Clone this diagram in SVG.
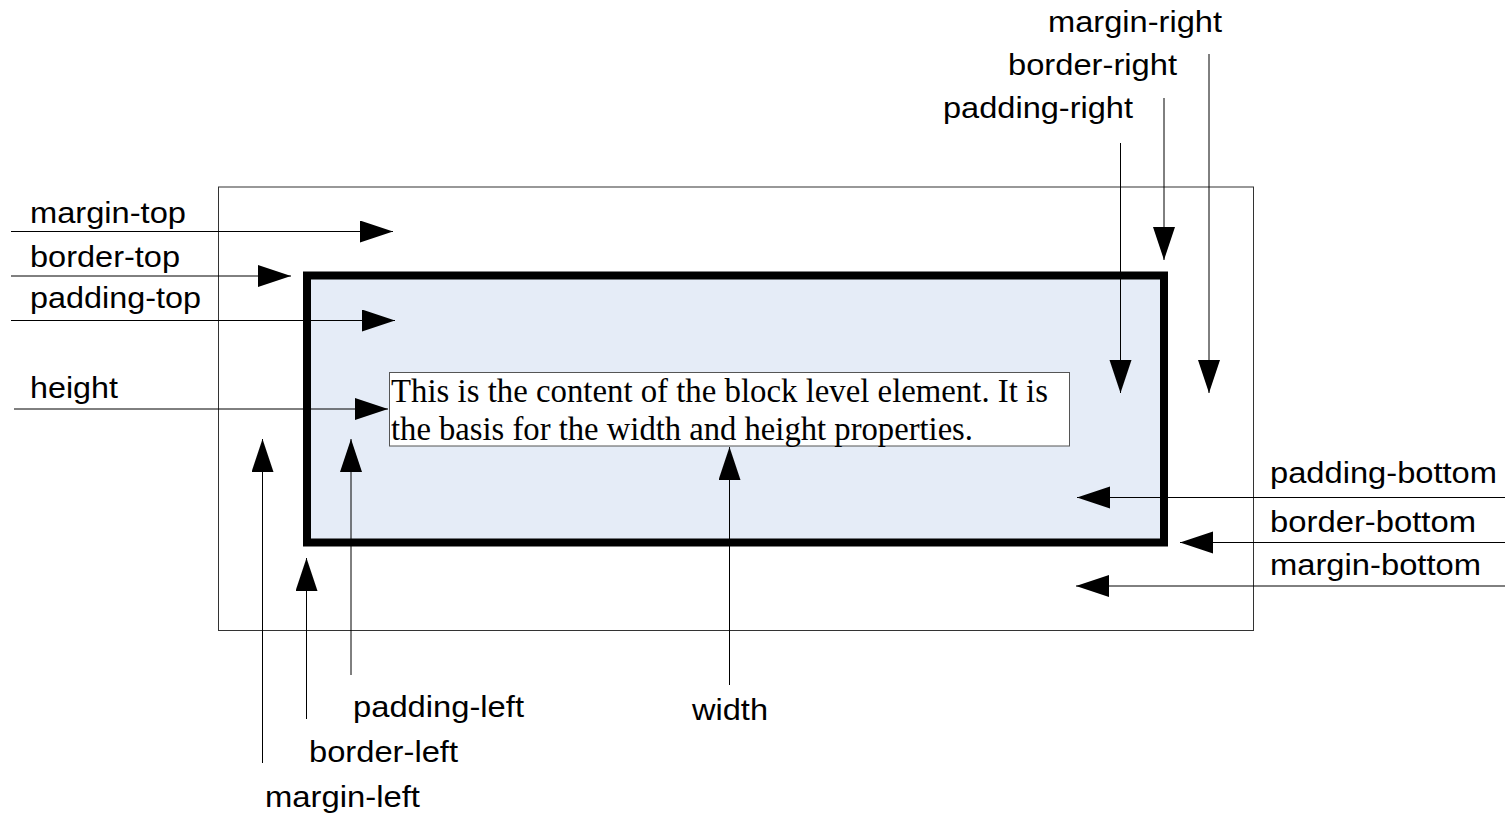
<svg xmlns="http://www.w3.org/2000/svg" width="1505" height="816" viewBox="0 0 1505 816">
  <style>
    .lbl { font-family: "Liberation Sans", Arial, sans-serif; font-size: 30px; fill: #000; }
    .body { font-family: "Liberation Serif", "Times New Roman", serif; font-size: 34px; fill: #000; }
    .conn { fill: none; stroke: #000; stroke-width: 1; marker-end: url(#head); }
  </style>
  <defs>
    <marker id="head" markerUnits="userSpaceOnUse" markerWidth="34" markerHeight="24" refX="33" refY="11" orient="auto">
      <path d="M0,0 L33,11 L0,22 Z" fill="#000"/>
    </marker>
  </defs>

  <!-- margin edge -->
  <g id="margin-box">
    <rect x="218.5" y="187" width="1035" height="443.5" fill="none" stroke="#333" stroke-width="1"/>
  </g>

  <!-- border edge with padding area -->
  <g id="border-box">
    <rect x="307" y="275.5" width="857" height="267" fill="#e5ecf7" stroke="#000" stroke-width="8"/>
  </g>

  <!-- content area -->
  <g id="content-box">
    <rect x="389.5" y="372.5" width="680" height="73.5" fill="#fff" stroke="#555" stroke-width="1"/>
    <text class="body" x="391" y="401.5" textLength="657" lengthAdjust="spacingAndGlyphs">This is the content of the block level element. It is</text>
    <text class="body" x="391" y="440" textLength="582" lengthAdjust="spacingAndGlyphs">the basis for the width and height properties.</text>
  </g>

  <!-- labels -->
  <g id="label-margin-top"><text class="lbl" x="30" y="223" textLength="156" lengthAdjust="spacingAndGlyphs">margin-top</text></g>
  <g id="label-border-top"><text class="lbl" x="30" y="267" textLength="150" lengthAdjust="spacingAndGlyphs">border-top</text></g>
  <g id="label-padding-top"><text class="lbl" x="30" y="308" textLength="171" lengthAdjust="spacingAndGlyphs">padding-top</text></g>
  <g id="label-height"><text class="lbl" x="30" y="398" textLength="88" lengthAdjust="spacingAndGlyphs">height</text></g>
  <g id="label-margin-right"><text class="lbl" x="1048" y="32" textLength="174" lengthAdjust="spacingAndGlyphs">margin-right</text></g>
  <g id="label-border-right"><text class="lbl" x="1008" y="75" textLength="169" lengthAdjust="spacingAndGlyphs">border-right</text></g>
  <g id="label-padding-right"><text class="lbl" x="943" y="118" textLength="190" lengthAdjust="spacingAndGlyphs">padding-right</text></g>
  <g id="label-padding-bottom"><text class="lbl" x="1270" y="483" textLength="227" lengthAdjust="spacingAndGlyphs">padding-bottom</text></g>
  <g id="label-border-bottom"><text class="lbl" x="1270" y="532" textLength="206" lengthAdjust="spacingAndGlyphs">border-bottom</text></g>
  <g id="label-margin-bottom"><text class="lbl" x="1270" y="575" textLength="211" lengthAdjust="spacingAndGlyphs">margin-bottom</text></g>
  <g id="label-padding-left"><text class="lbl" x="353" y="717" textLength="171" lengthAdjust="spacingAndGlyphs">padding-left</text></g>
  <g id="label-border-left"><text class="lbl" x="309" y="762" textLength="149" lengthAdjust="spacingAndGlyphs">border-left</text></g>
  <g id="label-margin-left"><text class="lbl" x="265" y="807" textLength="155" lengthAdjust="spacingAndGlyphs">margin-left</text></g>
  <g id="label-width"><text class="lbl" x="692" y="720" textLength="76" lengthAdjust="spacingAndGlyphs">width</text></g>

  <!-- pointer arrows -->
  <g id="connectors">
    <path class="conn" d="M11,231.5 H393"/>
    <path class="conn" d="M11,276 H291"/>
    <path class="conn" d="M11,320.5 H395"/>
    <path class="conn" d="M14,409 H388"/>

    <path class="conn" d="M1120.5,143 V393"/>
    <path class="conn" d="M1164,98 V260"/>
    <path class="conn" d="M1209,54 V393"/>

    <path class="conn" d="M1505,497.5 H1077"/>
    <path class="conn" d="M1505,542.5 H1180"/>
    <path class="conn" d="M1505,586 H1076"/>

    <path class="conn" d="M262.5,763 V439"/>
    <path class="conn" d="M306.5,719 V558"/>
    <path class="conn" d="M351,675 V439"/>
    <path class="conn" d="M729.5,685 V447"/>
  </g>
</svg>
